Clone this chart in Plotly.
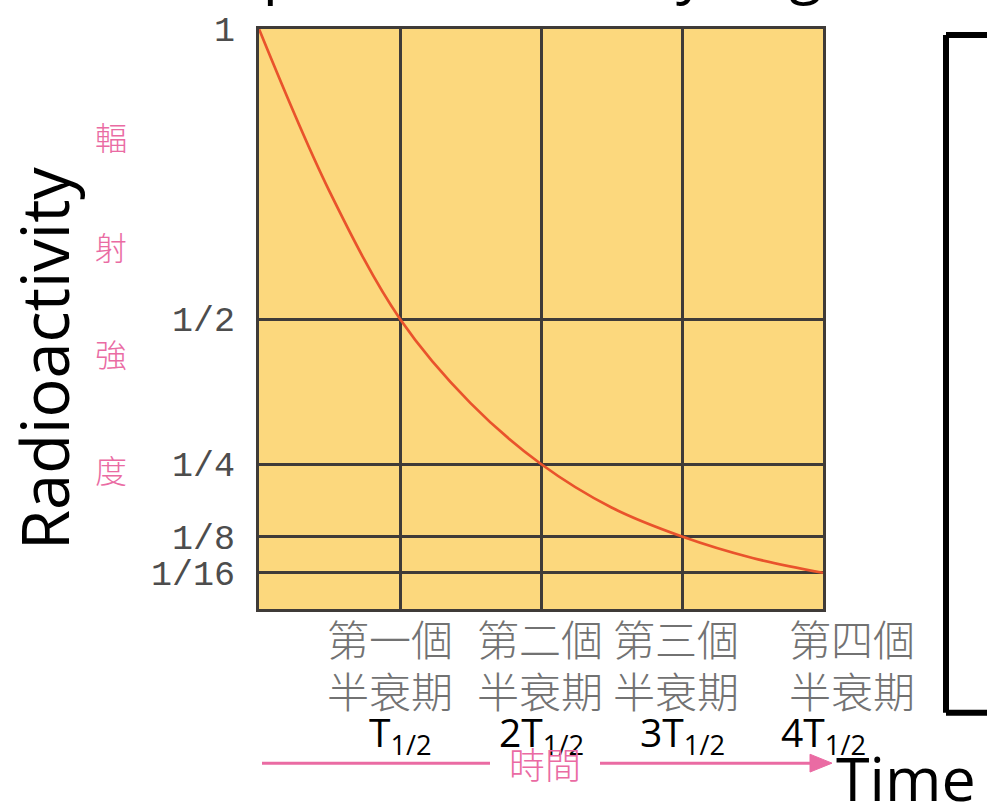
import plotly.graph_objects as go

# ---------------- data ----------------
half_lives = [0, 0.5, 1, 1.5, 2, 2.5, 3, 3.5, 4]
activity = [1.0, 0.72, 0.5, 0.355, 0.25, 0.175, 0.125, 0.088, 0.0625]

y_tick_vals = [1, 0.5, 0.25, 0.125, 0.0625]
y_tick_text = ["1", "1/2", "1/4", "1/8", "1/16"]

x_grid_vals = [0, 1, 2, 3, 4]
x_label_pos = [1, 2, 3, 4]
x_label_cn_top = ["第一個", "第二個", "第三個", "第四個"]
x_label_cn_bottom = ["半衰期", "半衰期", "半衰期", "半衰期"]
x_label_t = ["T<sub>1/2</sub>", "2T<sub>1/2</sub>", "3T<sub>1/2</sub>", "4T<sub>1/2</sub>"]

y_label_cn = ["輻", "射", "強", "度"]

# ---------------- layout helpers ----------------
W_FIG, H_FIG = 987, 810
L, R, T, B = 259, 823, 22, 609
PW, PH = R - L, B - T


def px(x):
    return (x - L) / PW


def py(y):
    return (B - y) / PH


BG = "#FCD87D"
GRID = "#3f3b38"
PINK = "#EA6BA3"
GRAY = "#727272"

fig = go.Figure()
fig.add_trace(go.Scatter(
    x=half_lives, y=activity, mode="lines",
    line=dict(color="#E9532C", width=2.7, shape="spline", smoothing=1.0),
    hoverinfo="skip", showlegend=False,
))

annotations = []

# y-axis pink Chinese characters
for ch, yy in zip(y_label_cn, [130, 242, 350, 467]):
    annotations.append(dict(
        text=ch, x=px(111), y=py(yy), xref="paper", yref="paper",
        showarrow=False, xanchor="center", yanchor="middle",
        font=dict(family="Noto Sans CJK TC", size=32, color=PINK, weight=300),
    ))

# Big English axis label
annotations.append(dict(
    text="Radioactivity", x=px(44), y=py(356), xref="paper", yref="paper",
    showarrow=False, textangle=-90, xanchor="center", yanchor="middle",
    font=dict(family="Open Sans", size=65, color="black"),
))

# x labels (Chinese, two rows)
cn_centers = [390, 540, 676, 852]
for i, pos in enumerate(x_label_pos):
    annotations.append(dict(
        text=x_label_cn_top[i], x=px(cn_centers[i]), y=py(638), xref="paper", yref="paper",
        showarrow=False, xanchor="center", yanchor="middle",
        font=dict(family="Noto Sans CJK TC", size=42, color=GRAY, weight=300),
    ))
    annotations.append(dict(
        text=x_label_cn_bottom[i], x=px(cn_centers[i]), y=py(690), xref="paper", yref="paper",
        showarrow=False, xanchor="center", yanchor="middle",
        font=dict(family="Noto Sans CJK TC", size=42, color=GRAY, weight=300),
    ))
    annotations.append(dict(
        text=x_label_t[i], x=pos, y=py(736), xref="x", yref="paper",
        showarrow=False, xanchor="center", yanchor="middle",
        font=dict(family="Open Sans", size=39, color="black"),
    ))

# 時間 arrow label
annotations.append(dict(
    text="時間", x=px(545), y=py(765), xref="paper", yref="paper",
    showarrow=False, xanchor="center", yanchor="middle",
    font=dict(family="Noto Sans CJK TC", size=36, color=PINK, weight=300),
))

# Time label
annotations.append(dict(
    text="Time", x=px(834), y=py(780), xref="paper", yref="paper",
    showarrow=False, xanchor="left", yanchor="middle",
    font=dict(family="Open Sans", size=61, color="black"),
))

# Cut-off slide title (only descenders visible)
annotations.append(dict(
    text="Exponential decay in general", x=px(196), y=py(5), xref="paper", yref="paper",
    showarrow=False, xanchor="left", yanchor="bottom",
    font=dict(family="Open Sans", size=60, color="black"),
))

shapes = []
# pink arrow lines
shapes.append(dict(type="line", xref="paper", yref="paper",
                   x0=px(262), x1=px(490), y0=py(765), y1=py(765),
                   line=dict(color=PINK, width=3)))
shapes.append(dict(type="line", xref="paper", yref="paper",
                   x0=px(600), x1=px(815), y0=py(765), y1=py(765),
                   line=dict(color=PINK, width=3)))
shapes.append(dict(type="path", xref="paper", yref="paper",
                   path=f"M {px(810)},{py(756)} L {px(832)},{py(765)} L {px(810)},{py(774)} Z",
                   fillcolor=PINK, line=dict(color=PINK, width=1)))
# black bracket on right
for (x0, y0, x1, y1) in [(946, 28, 946, 714), (946, 28, 990, 28), (946, 714, 990, 714)]:
    shapes.append(dict(type="line", xref="paper", yref="paper",
                       x0=px(x0), x1=px(x1), y0=py(y0), y1=py(y1),
                       line=dict(color="black", width=6)))

fig.update_layout(
    width=W_FIG, height=H_FIG,
    margin=dict(l=L, r=W_FIG - R, t=T, b=H_FIG - B, pad=0),
    paper_bgcolor="white", plot_bgcolor=BG,
    showlegend=False,
    annotations=annotations, shapes=shapes,
    xaxis=dict(range=[0, 4], tickvals=x_grid_vals, showticklabels=False,
               showgrid=True, gridcolor=GRID, gridwidth=3, zeroline=False,
               showline=True, linecolor=GRID, linewidth=3, mirror=True, ticks=""),
    yaxis=dict(range=[0, 1], tickvals=y_tick_vals,
               ticktext=y_tick_text,
               tickfont=dict(family="Liberation Mono", size=35, color="#4d4d4d"),
               ticklabelstandoff=14,
               showgrid=True, gridcolor=GRID, gridwidth=3, zeroline=False,
               showline=True, linecolor=GRID, linewidth=3, mirror=True, ticks=""),
)

fig.write_html(
    "out.html",
    config={"displayModeBar": False},
    post_script="document.body.style.margin='0';document.body.style.overflow='hidden';",
)
